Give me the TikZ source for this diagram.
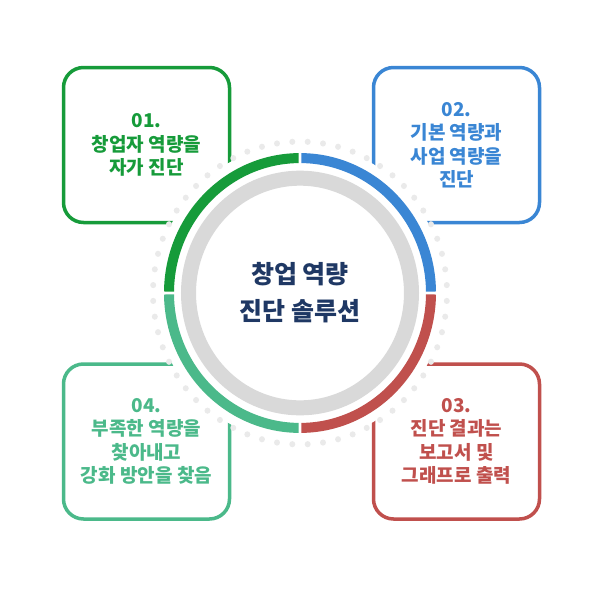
\documentclass[tikz,border=0pt]{standalone}
\usepackage{fontspec}
\newfontfamily\kofont{Noto Sans CJK KR}
\usetikzlibrary{positioning}
\definecolor{stepgreen}{RGB}{22,155,58}
\definecolor{stepblue}{RGB}{58,134,212}
\definecolor{stepred}{RGB}{192,80,77}
\definecolor{stepteal}{RGB}{75,185,138}
\definecolor{titlenavy}{RGB}{31,56,100}
\definecolor{ringgray}{RGB}{217,217,217}
\definecolor{dotgray}{RGB}{234,234,234}
\tikzset{
	stepbox/.style={
		draw=#1, text=#1, line width=3.5pt, rounded corners=20pt,
		minimum width=166pt, minimum height=155pt, inner sep=0pt,
		align=center, font=\kofont\bfseries\fontsize{19}{23.5}\selectfont},
	ringseg/.style={draw=#1, line width=10pt},
	titletext/.style={text=titlenavy, align=center,
		font=\kofont\bfseries\fontsize{25}{37}\selectfont}
}
\begin{document}
\begin{tikzpicture}[x=1pt,y=-1pt]
			\useasboundingbox (0,0) rectangle (600,600);
			% the four steps
			\node[stepbox=stepgreen] (step1) at (146.5,145) {01.\\창업자 역량을\\자가 진단};
			\node[stepbox=stepblue] (step2) at (456.5,145) {02.\\기본 역량과\\사업 역량을\\진단};
			\node[stepbox=stepred] (step3) at (456.5,441.5) {03.\\진단 결과는\\보고서 및\\그래프로 출력};
			\node[stepbox=stepteal] (step4) at (146.5,441.5) {04.\\부족한 역량을\\찾아내고\\강화 방안을 찾음};
			% the ring
			\begin{scope}[shift={(300,293)},yscale=-1.03]
				\fill[white] (0,0) circle[radius=145];
				\foreach \a in {3,9,...,357}
					\fill[dotgray] (\a:147) circle[radius=3];
				\draw[ringseg=stepblue] (0.6:131) arc[start angle=0.6,end angle=89.4,radius=131];
				\draw[ringseg=stepgreen] (90.6:131) arc[start angle=90.6,end angle=179.4,radius=131];
				\draw[ringseg=stepteal] (180.6:131) arc[start angle=180.6,end angle=269.4,radius=131];
				\draw[ringseg=stepred] (270.6:131) arc[start angle=270.6,end angle=359.4,radius=131];
				\draw[ringgray,line width=15pt] (0,0) circle[radius=111.5];
			\end{scope}
			\node[titletext] (title) at (300,293) {창업 역량\\진단 솔루션};
\end{tikzpicture}
\end{document}
